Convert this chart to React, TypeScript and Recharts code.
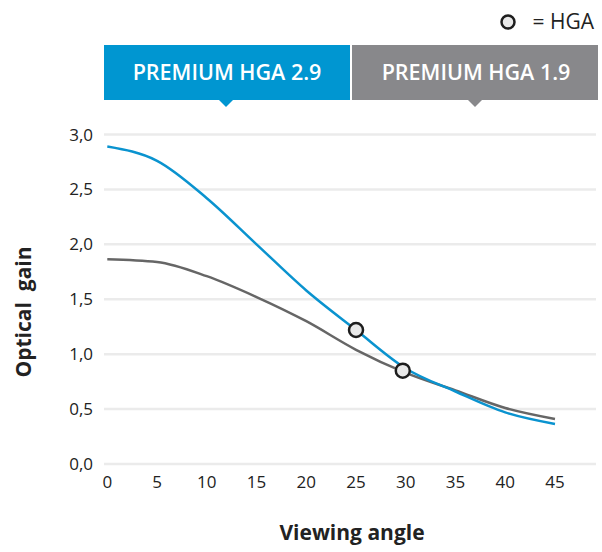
import React from "react";
import {
  XAxis,
  YAxis,
  CartesianGrid,
  Line,
  Scatter,
  ComposedChart,
} from "recharts";

const angles = [0, 5, 10, 15, 20, 25, 30, 35, 40, 45];
const hga29 = [2.89, 2.76, 2.42, 2.0, 1.58, 1.22, 0.87, 0.66, 0.47, 0.365];
const hga19 = [1.865, 1.84, 1.71, 1.52, 1.3, 1.04, 0.83, 0.67, 0.51, 0.41];
const hgaPoints = [
  { angle: 25, gain: 1.22 },
  { angle: 29.7, gain: 0.85 },
];
const yTicks = [0, 0.5, 1, 1.5, 2, 2.5, 3];
const xTicks = angles;

const BLUE = "#0A93CF";
const GREY_LINE = "#666666";
const FONT = "'Open Sans', Lato, sans-serif";

const data = angles.map((a, i) => ({ angle: a, hga29: hga29[i], hga19: hga19[i] }));

const HgaDot = (props: any) => {
  const { cx, cy } = props;
  return <circle cx={cx} cy={cy} r={7} fill="#E9E9E9" stroke="#1E1E1E" strokeWidth={2.5} />;
};

// header boxes, HGA key and axis titles drawn on top of the chart
const Overlay = () => (
  <svg width={602} height={552} style={{ position: "absolute", left: 0, top: 0, pointerEvents: "none" }}>
    <circle cx={508} cy={22} r={6.5} fill="#E9E9E9" stroke="#1E1E1E" strokeWidth={2.5} />
    <text x={594} y={29} textAnchor="end" fontFamily={FONT} fontSize={21} fill="#222">
      = HGA
    </text>
    <rect x={104} y={45} width={246} height={55} fill="#0096D1" />
    <polygon points="219,100 233,100 226,107" fill="#0096D1" />
    <text x={227} y={80} textAnchor="middle" fontFamily={FONT} fontWeight={600} fontSize={21.5} fill="#fff">
      PREMIUM HGA 2.9
    </text>
    <rect x={352} y={45} width={246} height={55} fill="#88888B" />
    <polygon points="468,100 482,100 475,107" fill="#88888B" />
    <text x={476} y={80} textAnchor="middle" fontFamily={FONT} fontWeight={600} fontSize={21.5} fill="#fff">
      PREMIUM HGA 1.9
    </text>
    <text
      x={352}
      y={540}
      textAnchor="middle"
      fontFamily={FONT}
      fontWeight={700}
      fontSize={21}
      fill="#222"
    >
      Viewing angle
    </text>
    <text
      x={0}
      y={0}
      transform="translate(31,312) rotate(-90)"
      textAnchor="middle"
      fontFamily={FONT}
      fontWeight={700}
      fontSize={21}
      fill="#222"
      style={{ whiteSpace: "pre" }}
    >
      {"Optical  gain"}
    </text>
  </svg>
);

export default function App() {
  return (
    <div style={{ position: "absolute", left: 0, top: 0, width: 602, height: 552, background: "#fff" }}>
      <ComposedChart
        width={602}
        height={552}
        data={data}
        margin={{ top: 134.5, right: 6, bottom: 58, left: 0 }}
      >
        <CartesianGrid vertical={false} stroke="#EBEBEB" strokeWidth={2.5} />
        <XAxis
          dataKey="angle"
          type="number"
          domain={[0, 45]}
          ticks={xTicks}
          padding={{ left: 3.3, right: 41 }}
          axisLine={false}
          tickLine={false}
          tick={{ fill: "#222", fontSize: 17, fontFamily: FONT }}
          tickMargin={6}
          interval={0}
        />
        <YAxis
          domain={[0, 3]}
          ticks={yTicks}
          width={104}
          axisLine={false}
          tickLine={false}
          tick={{ fill: "#222", fontSize: 17, fontFamily: FONT }}
          tickFormatter={(v: number) => v.toFixed(1).replace(".", ",")}
          tickMargin={5}
          interval={0}
        />
        <Line
          type="monotone"
          dataKey="hga19"
          stroke={GREY_LINE}
          strokeWidth={2.5}
          dot={false}
          isAnimationActive={false}
        />
        <Line
          type="monotone"
          dataKey="hga29"
          stroke={BLUE}
          strokeWidth={2.5}
          dot={false}
          isAnimationActive={false}
        />
        <Scatter
          data={hgaPoints}
          dataKey="gain"
          shape={<HgaDot />}
          isAnimationActive={false}
        />
      </ComposedChart>
      <Overlay />
    </div>
  );
}
